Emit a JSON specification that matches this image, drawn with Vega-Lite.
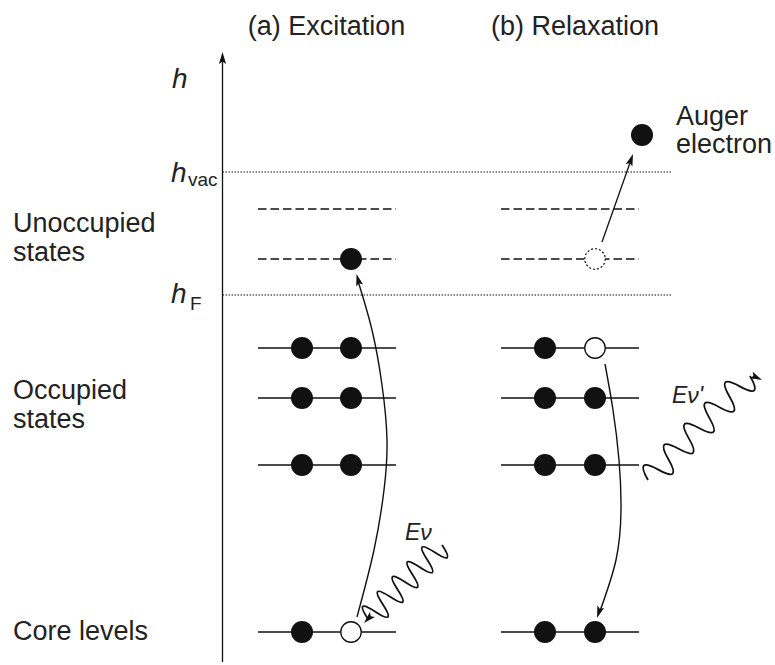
{
  "$schema": "https://vega.github.io/schema/vega-lite/v6.json",
  "width": 775,
  "height": 665,
  "padding": 0,
  "autosize": {"type": "fit", "contains": "padding"},
  "background": "white",
  "config": {"view": {"stroke": null}},
  "datasets": {
    "segments": [
      {"kind": "axis", "x": 222.5, "y": 58, "x2": 222.5, "y2": 662},
      {"kind": "edge", "x": 222.5, "y": 172, "x2": 672, "y2": 172},
      {"kind": "edge", "x": 222.5, "y": 295, "x2": 672, "y2": 295},
      {"kind": "empty", "x": 258, "y": 209, "x2": 396, "y2": 209},
      {"kind": "empty", "x": 258, "y": 259, "x2": 396, "y2": 259},
      {"kind": "empty", "x": 501, "y": 209, "x2": 639, "y2": 209},
      {"kind": "empty", "x": 501, "y": 259, "x2": 639, "y2": 259},
      {"kind": "filled", "x": 258, "y": 348, "x2": 396, "y2": 348},
      {"kind": "filled", "x": 258, "y": 398, "x2": 396, "y2": 398},
      {"kind": "filled", "x": 258, "y": 465, "x2": 396, "y2": 465},
      {"kind": "filled", "x": 258, "y": 632, "x2": 396, "y2": 632},
      {"kind": "filled", "x": 501, "y": 348, "x2": 639, "y2": 348},
      {"kind": "filled", "x": 501, "y": 398, "x2": 639, "y2": 398},
      {"kind": "filled", "x": 501, "y": 465, "x2": 639, "y2": 465},
      {"kind": "filled", "x": 501, "y": 632, "x2": 639, "y2": 632},
      {"kind": "emission", "x": 602, "y": 242, "x2": 631, "y2": 160}
    ],
    "transitions": [
      {"path": "excite", "i": 0, "x": 358, "y": 281},
      {"path": "excite", "i": 1, "x": 372, "y": 330},
      {"path": "excite", "i": 2, "x": 382, "y": 385},
      {"path": "excite", "i": 3, "x": 387, "y": 440},
      {"path": "excite", "i": 4, "x": 384, "y": 490},
      {"path": "excite", "i": 5, "x": 374, "y": 550},
      {"path": "excite", "i": 6, "x": 357, "y": 617},
      {"path": "decay", "i": 0, "x": 605, "y": 364},
      {"path": "decay", "i": 1, "x": 613, "y": 410},
      {"path": "decay", "i": 2, "x": 619, "y": 460},
      {"path": "decay", "i": 3, "x": 621, "y": 510},
      {"path": "decay", "i": 4, "x": 616, "y": 560},
      {"path": "decay", "i": 5, "x": 600, "y": 611}
    ],
    "heads": [
      {"x": 222.5, "y": 58, "heading": 270},
      {"x": 358.1, "y": 279.8, "heading": 254.5},
      {"x": 631, "y": 159.7, "heading": 289.4},
      {"x": 598.9, "y": 612.3, "heading": 108},
      {"x": 368.2, "y": 618.8, "heading": 135},
      {"x": 756.6, "y": 377.5, "heading": 25}
    ],
    "electrons": [
      {"state": "filled", "x": 302, "y": 348},
      {"state": "filled", "x": 351, "y": 348},
      {"state": "filled", "x": 302, "y": 398},
      {"state": "filled", "x": 351, "y": 398},
      {"state": "filled", "x": 302, "y": 465},
      {"state": "filled", "x": 351, "y": 465},
      {"state": "filled", "x": 302, "y": 632},
      {"state": "filled", "x": 351, "y": 259},
      {"state": "hole", "x": 351, "y": 632},
      {"state": "filled", "x": 545, "y": 348},
      {"state": "hole", "x": 595, "y": 348},
      {"state": "filled", "x": 545, "y": 398},
      {"state": "filled", "x": 595, "y": 398},
      {"state": "filled", "x": 545, "y": 465},
      {"state": "filled", "x": 595, "y": 465},
      {"state": "filled", "x": 545, "y": 632},
      {"state": "filled", "x": 595, "y": 632},
      {"state": "vacated", "x": 595, "y": 259},
      {"state": "filled", "x": 642, "y": 135}
    ],
    "photons": [
      {"photon": "absorbed", "x": 405, "y": 582},
      {"photon": "emitted", "x": 699, "y": 428}
    ],
    "labels": [
      {"role": "title", "x": 326.5, "y": 35, "text": "(a) Excitation"},
      {"role": "title", "x": 575, "y": 35, "text": "(b) Relaxation"},
      {"role": "side", "x": 13, "y": 232, "text": "Unoccupied"},
      {"role": "side", "x": 13, "y": 261, "text": "states"},
      {"role": "side", "x": 13, "y": 399, "text": "Occupied"},
      {"role": "side", "x": 13, "y": 428, "text": "states"},
      {"role": "side", "x": 13, "y": 640, "text": "Core levels"},
      {"role": "side", "x": 676, "y": 125, "text": "Auger"},
      {"role": "side", "x": 676, "y": 153, "text": "electron"},
      {"role": "symbol", "x": 172, "y": 88, "text": "h"},
      {"role": "symbol", "x": 171, "y": 182, "text": "h"},
      {"role": "symbol", "x": 171, "y": 303, "text": "h"},
      {"role": "sub", "x": 188, "y": 186, "text": "vac"},
      {"role": "sub", "x": 190, "y": 310, "text": "F"},
      {"role": "energy", "x": 405, "y": 540, "text": "Eν"},
      {"role": "energy", "x": 672, "y": 403, "text": "Eν'"}
    ]
  },
  "encoding": {
    "x": {"field": "x", "type": "quantitative", "scale": {"domain": [0, 775], "nice": false, "zero": false}, "axis": null},
    "y": {"field": "y", "type": "quantitative", "scale": {"domain": [0, 665], "nice": false, "zero": false, "reverse": true}, "axis": null}
  },
  "layer": [
    {
      "data": {"name": "segments"},
      "transform": [{"filter": "datum.kind === 'axis' || datum.kind === 'filled' || datum.kind === 'emission'"}],
      "mark": {"type": "rule", "color": "#111", "strokeWidth": 1.3},
      "encoding": {"x2": {"field": "x2"}, "y2": {"field": "y2"}}
    },
    {
      "data": {"name": "segments"},
      "transform": [{"filter": "datum.kind === 'edge'"}],
      "mark": {"type": "rule", "color": "#111", "strokeWidth": 1.1, "strokeDash": [1.5, 1.5]},
      "encoding": {"x2": {"field": "x2"}, "y2": {"field": "y2"}}
    },
    {
      "data": {"name": "segments"},
      "transform": [{"filter": "datum.kind === 'empty'"}],
      "mark": {"type": "rule", "color": "#111", "strokeWidth": 1.3, "strokeDash": [8.5, 4]},
      "encoding": {"x2": {"field": "x2"}, "y2": {"field": "y2"}}
    },
    {
      "data": {"name": "transitions"},
      "mark": {"type": "line", "color": "#111", "strokeWidth": 1.4, "interpolate": "natural"},
      "encoding": {"detail": {"field": "path"}, "order": {"field": "i", "type": "quantitative"}}
    },
    {
      "data": {"name": "photons"},
      "transform": [{"filter": "datum.photon === 'absorbed'"}],
      "mark": {"type": "point", "filled": false, "stroke": "#111", "strokeWidth": 1.8, "opacity": 1, "size": 11000, "angle": 135,
        "shape": "M -1 0 Q -0.9 -0.48 -0.8 0 Q -0.7 0.48 -0.6 0 Q -0.5 -0.48 -0.4 0 Q -0.3 0.48 -0.2 0 Q -0.1 -0.48 0 0 Q 0.1 0.48 0.2 0 Q 0.3 -0.48 0.4 0 Q 0.5 0.48 0.6 0 Q 0.7 -0.48 0.8 0 Q 0.9 0.48 1 0"}
    },
    {
      "data": {"name": "photons"},
      "transform": [{"filter": "datum.photon === 'emitted'"}],
      "mark": {"type": "point", "filled": false, "stroke": "#111", "strokeWidth": 1.8, "opacity": 1, "size": 21230, "angle": 314.4,
        "shape": "M -1 0 Q -0.9 -0.36 -0.8 0 Q -0.7 0.36 -0.6 0 Q -0.5 -0.36 -0.4 0 Q -0.3 0.36 -0.2 0 Q -0.1 -0.36 0 0 Q 0.1 0.36 0.2 0 Q 0.3 -0.36 0.4 0 Q 0.5 0.36 0.6 0 Q 0.7 -0.36 0.8 0 Q 0.9 0.36 1 0"}
    },
    {
      "data": {"name": "electrons"},
      "transform": [{"filter": "datum.state === 'filled'"}],
      "mark": {"type": "point", "shape": "circle", "filled": true, "color": "#111", "opacity": 1, "size": 484}
    },
    {
      "data": {"name": "electrons"},
      "transform": [{"filter": "datum.state === 'hole'"}],
      "mark": {"type": "point", "shape": "circle", "filled": false, "fill": "white", "stroke": "#111", "strokeWidth": 1.3, "opacity": 1, "fillOpacity": 1, "size": 420}
    },
    {
      "data": {"name": "electrons"},
      "transform": [{"filter": "datum.state === 'vacated'"}],
      "mark": {"type": "point", "shape": "circle", "filled": false, "fill": "white", "stroke": "#111", "strokeWidth": 1.2, "strokeDash": [2, 2], "opacity": 1, "fillOpacity": 1, "size": 420}
    },
    {
      "data": {"name": "heads"},
      "mark": {"type": "point", "filled": true, "color": "#111", "opacity": 1, "size": 144, "shape": "M 1 0 L -1 -0.6 L -0.6 0 L -1 0.6 Z"},
      "encoding": {"angle": {"field": "heading", "type": "quantitative", "scale": null}}
    },
    {
      "data": {"name": "labels"},
      "transform": [{"filter": "datum.role === 'title'"}],
      "mark": {"type": "text", "font": "Liberation Sans", "fontSize": 27, "color": "#222", "align": "center", "baseline": "alphabetic"},
      "encoding": {"text": {"field": "text"}}
    },
    {
      "data": {"name": "labels"},
      "transform": [{"filter": "datum.role === 'side'"}],
      "mark": {"type": "text", "font": "Liberation Sans", "fontSize": 27, "color": "#222", "align": "left", "baseline": "alphabetic"},
      "encoding": {"text": {"field": "text"}}
    },
    {
      "data": {"name": "labels"},
      "transform": [{"filter": "datum.role === 'symbol'"}],
      "mark": {"type": "text", "font": "Liberation Sans", "fontSize": 28, "fontStyle": "italic", "color": "#222", "align": "left", "baseline": "alphabetic"},
      "encoding": {"text": {"field": "text"}}
    },
    {
      "data": {"name": "labels"},
      "transform": [{"filter": "datum.role === 'sub'"}],
      "mark": {"type": "text", "font": "Liberation Sans", "fontSize": 19, "color": "#222", "align": "left", "baseline": "alphabetic"},
      "encoding": {"text": {"field": "text"}}
    },
    {
      "data": {"name": "labels"},
      "transform": [{"filter": "datum.role === 'energy'"}],
      "mark": {"type": "text", "font": "Liberation Sans", "fontSize": 23, "fontStyle": "italic", "color": "#222", "align": "left", "baseline": "alphabetic"},
      "encoding": {"text": {"field": "text"}}
    }
  ]
}
